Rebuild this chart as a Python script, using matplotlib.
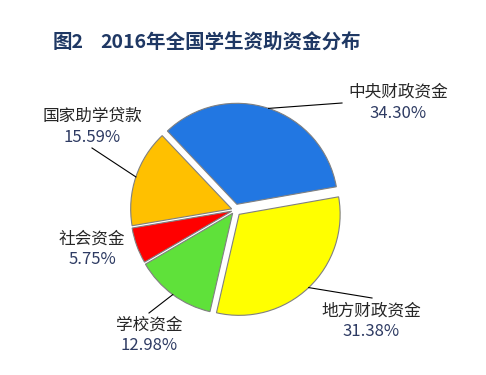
import numpy as np
import matplotlib
matplotlib.use('Agg')
import matplotlib.pyplot as plt

plt.rcParams['font.family'] = ['Noto Sans CJK SC', 'DejaVu Sans']

# data
names = ['中央财政资金', '国家助学贷款', '社会资金', '学校资金', '地方财政资金']
shares = [34.30, 15.59, 5.75, 12.98, 31.38]
colors = ['#2277E2', '#FFC000', '#FF0000', '#5FE13A', '#FFFF00']

# layout in pixels (y measured from top)
W, H = 486, 375
cx, cy, R = 235, 210, 101
explode = [6, 3.5, 3.5, 4, 6]  # pixel offsets
label_xy = [(398, 92), (92, 116), (92, 239), (149, 325), (371, 311)]
leader_end = [(342, 103), (92, 148), None, (149, 313), (372, 298)]

fig = plt.figure(figsize=(W / 100, H / 100), dpi=100)
ax = fig.add_axes([0, 0, 1, 1])

wedges, _ = ax.pie(shares, colors=colors, explode=explode, startangle=10,
                   counterclock=True, radius=R, center=(cx, H - cy),
                   wedgeprops=dict(edgecolor='#808080', linewidth=0.8))
ax.set_xlim(0, W)
ax.set_ylim(0, H)
ax.set_aspect('equal')
ax.axis('off')

for w, name, val, (lx, ly), le in zip(wedges, names, shares, label_xy, leader_end):
    ax.text(lx, H - ly, name, ha='center', va='center', fontsize=12, color='#262626')
    ax.text(lx, H - ly - 21, f'{val:.2f}%', ha='center', va='center', fontsize=12,
            color='#2E3B63')
    if le is not None:
        mid = np.deg2rad((w.theta1 + w.theta2) / 2)
        x0 = w.center[0] + w.r * np.cos(mid)
        y0 = w.center[1] + w.r * np.sin(mid)
        ax.plot([x0, le[0]], [y0, H - le[1]], color='#000000', lw=0.8)

fig.text(53 / W, 1 - 42 / H, '图2', fontsize=14,
         fontweight='bold', color='#1F3864', ha='left', va='center')
fig.text(100 / W, 1 - 42 / H, '2016年全国学生资助资金分布', fontsize=14,
         fontweight='bold', color='#1F3864', ha='left', va='center')

fig.savefig('out.png', dpi=100)
